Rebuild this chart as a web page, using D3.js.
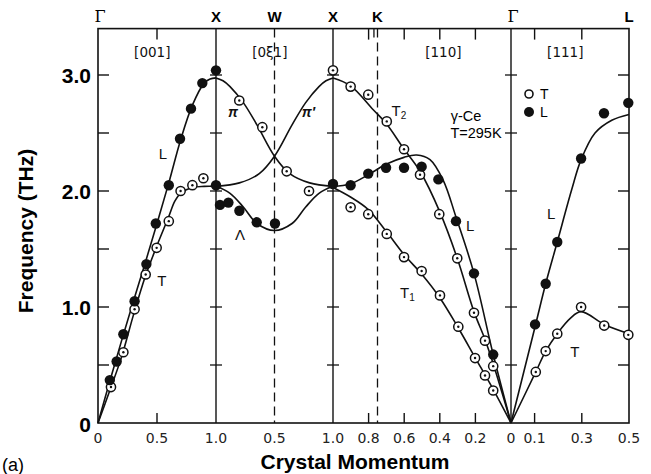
<!DOCTYPE html>
<html><head><meta charset="utf-8">
<script src="https://cdn.jsdelivr.net/npm/d3@7/dist/d3.min.js"></script>
<style>body{margin:0;background:#fff}svg{display:block}</style>
</head><body>
<svg id="c" width="651" height="474"></svg>
<script>
// ---------- DATA ----------
// path coordinate s: Γ-X [001] 0..1, X-W-X [0ξ1] 1..2, X-K-Γ [110] 2..3, Γ-L [111] 3..3.5
const symbolNames = ["Γ","X","W","X","K","Γ","L"];
const symbolPos   = [0, 1, 1.5, 2, 2.25, 3, 3.5];
const sectionNames = ["[001]","[0ξ1]","[110]","[111]"];
const sectionPos   = [0.46, 1.46, 2.62, 3.23];
const xTickPos    = [0, 0.5, 1, 1.5, 2, 2.2, 2.4, 2.6, 2.8, 3, 3.1, 3.3, 3.5];
const xTickLabels = ["0","0.5","1.0","0.5","1.0","0.8","0.6","0.4","0.2","0","0.1","0.3","0.5"];
const yTickVals   = [0, 1, 2, 3];
const yTickLabels = ["0","1.0","2.0","3.0"];

// measured points: filled = L (longitudinal), open = T (transverse)
const filledPts = [
  [0.10,0.37],[0.158,0.53],[0.215,0.765],[0.31,1.05],[0.41,1.37],[0.49,1.72],[0.60,2.05],
  [0.695,2.45],[0.788,2.71],[0.884,2.93],[1.0,3.04],[1.0,2.05],
  [1.034,1.88],[1.106,1.90],[1.20,1.83],[1.348,1.73],[1.504,1.72],[2.0,2.06],
  [2.099,2.05],[2.198,2.15],[2.298,2.20],[2.399,2.20],[2.498,2.21],[2.592,2.10],[2.691,1.74],
  [2.792,1.29],[2.90,0.59],
  [3.102,0.85],[3.147,1.20],[3.196,1.56],[3.297,2.28],[3.394,2.67],[3.497,2.76]
];
const openPts = [
  [0.11,0.31],[0.215,0.61],[0.31,0.98],[0.404,1.28],[0.497,1.51],[0.60,1.74],[0.70,2.00],
  [0.80,2.05],[0.893,2.11],
  [1.199,2.78],[1.396,2.55],[1.604,2.17],[1.795,2.00],[2.0,3.04],
  [2.099,2.90],[2.198,2.83],[2.302,2.60],[2.399,2.36],[2.489,2.14],[2.597,1.80],[2.698,1.42],
  [2.792,0.95],[2.854,0.71],[2.90,0.49],
  [2.099,1.86],[2.198,1.80],[2.302,1.63],[2.399,1.43],[2.498,1.31],[2.601,1.10],[2.704,0.83],
  [2.798,0.56],[2.854,0.41],[2.90,0.28],
  [3.105,0.44],[3.147,0.62],[3.196,0.77],[3.297,1.00],[3.395,0.84],[3.497,0.76]
];

// fitted dispersion curves
const curveL001 = [[0,0],[0.1,0.36],[0.2,0.71],[0.3,1.05],[0.4,1.38],[0.5,1.72],[0.6,2.07],[0.7,2.44],[0.8,2.74],[0.9,2.93],[0.95,2.965],[1.0,2.975]];
const curveT001 = [[0,0],[0.1,0.28],[0.2,0.57],[0.3,0.93],[0.4,1.26],[0.5,1.53],[0.6,1.78],[0.65,1.91],[0.7,1.98],[0.8,2.03],[0.9,2.04],[1.0,2.04]];
const curvePi   = [[1.0,2.975],[1.06,2.95],[1.12,2.90],[1.235,2.76],[1.35,2.57],[1.5,2.30],[1.63,2.15],[1.8,2.07],[2.0,2.04]];
const curvePiP  = [[1.0,2.04],[1.2,2.07],[1.37,2.15],[1.5,2.30],[1.65,2.57],[1.765,2.76],[1.88,2.90],[1.94,2.95],[2.0,2.975]];
const curveLam  = [[1.0,2.04],[1.12,1.98],[1.235,1.86],[1.35,1.72],[1.5,1.66],[1.65,1.72],[1.765,1.86],[1.88,1.98],[2.0,2.04]];
const curveT2   = [[2.0,2.975],[2.096,2.91],[2.226,2.70],[2.30,2.58],[2.395,2.37],[2.489,2.17],[2.60,1.82],[2.698,1.42],[2.792,0.96],[2.854,0.72],[2.90,0.51],[3.0,0]];
const curveL110 = [[2.0,2.04],[2.096,2.06],[2.198,2.14],[2.298,2.23],[2.399,2.29],[2.47,2.31],[2.545,2.27],[2.62,2.09],[2.69,1.78],[2.792,1.29],[2.90,0.59],[3.0,0]];
const curveT1   = [[2.0,2.03],[2.096,1.95],[2.198,1.84],[2.30,1.65],[2.40,1.45],[2.50,1.28],[2.60,1.08],[2.70,0.83],[2.80,0.56],[2.90,0.29],[3.0,0]];
const curveL111 = [[3.0,0],[3.102,0.83],[3.147,1.20],[3.196,1.56],[3.257,2.01],[3.297,2.27],[3.356,2.50],[3.427,2.61],[3.5,2.66]];
const curveT111 = [[3.0,0],[3.105,0.44],[3.147,0.62],[3.196,0.77],[3.25,0.90],[3.297,0.96],[3.395,0.85],[3.5,0.77]];

const curveLabels = [
  {t:"L", s:0.551, f:2.32},{t:"T", s:0.54, f:1.22},{t:"π", s:1.145, f:2.68},{t:"π′", s:1.79, f:2.68},
  {t:"Λ", s:1.205, f:1.62},{t:"T", sub:"2", s:2.37, f:2.69},{t:"L", s:2.77, f:1.70},
  {t:"T", sub:"1", s:2.418, f:1.12},{t:"L", s:3.17, f:1.80},{t:"T", s:3.27, f:0.61}
];

// ---------- DRAW ----------
const svg = d3.select("#c");
const x = d3.scaleLinear().domain([0,1,2,3,3.5]).range([98,216,333,511,629]);
const y = d3.scaleLinear().domain([0,3]).range([423,75]);
const yTop = y(3.4), yBot = y(0), xL = x(0), xR = x(3.5);

// vertical symmetry lines
[1,2,3].forEach(s=>{
  svg.append("line").attr("x1",x(s)).attr("x2",x(s)).attr("y1",yTop).attr("y2",yBot)
    .attr("stroke","#111").attr("stroke-width",1.4);
  d3.range(0.5,3.01,0.5).forEach(v=>{
    svg.append("line").attr("x1",x(s)-6).attr("x2",x(s)+6).attr("y1",y(v)).attr("y2",y(v))
      .attr("stroke","#111").attr("stroke-width",1.3);
  });
});
[1.5,2.25].forEach(s=>{
  svg.append("line").attr("x1",x(s)).attr("x2",x(s)).attr("y1",yTop).attr("y2",yBot)
    .attr("stroke","#111").attr("stroke-width",1.3).attr("stroke-dasharray","9,5");
});

// frame
svg.append("rect").attr("x",xL).attr("y",yTop).attr("width",xR-xL).attr("height",yBot-yTop)
  .attr("fill","none").attr("stroke","#111").attr("stroke-width",1.6);

// y ticks (inside on both sides)
d3.range(0.5,3.01,0.5).forEach(v=>{
  svg.append("line").attr("x1",xL).attr("x2",xL+11).attr("y1",y(v)).attr("y2",y(v)).attr("stroke","#111").attr("stroke-width",1.4);
  svg.append("line").attr("x1",xR-11).attr("x2",xR).attr("y1",y(v)).attr("y2",y(v)).attr("stroke","#111").attr("stroke-width",1.4);
});
// inner x ticks top and bottom
[0.5,2.2,2.4,2.6,2.8,3.1,3.3].forEach(s=>{
  svg.append("line").attr("x1",x(s)).attr("x2",x(s)).attr("y1",yBot).attr("y2",yBot-10).attr("stroke","#111").attr("stroke-width",1.4);
  svg.append("line").attr("x1",x(s)).attr("x2",x(s)).attr("y1",yTop).attr("y2",yTop+11).attr("stroke","#111").attr("stroke-width",1.4);
});
svg.append("line").attr("x1",x(2.23)).attr("x2",x(2.23)).attr("y1",yTop).attr("y2",yTop+9).attr("stroke","#111").attr("stroke-width",1.3);

// y labels
svg.selectAll(".yl").data(yTickVals).enter().append("text")
  .attr("x",91).attr("y",(d,i)=>y(d)+ (d===0?9:7.5)).attr("text-anchor","end")
  .attr("font-family","Liberation Sans, Arial, sans-serif").attr("font-weight","bold").attr("font-size",21)
  .text((d,i)=>yTickLabels[i]);

// x labels
svg.selectAll(".xl").data(xTickPos).enter().append("text")
  .attr("x",d=>x(d)).attr("y",443).attr("text-anchor","middle")
  .attr("font-family","DejaVu Sans, sans-serif").attr("font-size",14).attr("fill","#222")
  .text((d,i)=>xTickLabels[i]);

// symmetry point labels
svg.selectAll(".sym").data(symbolPos).enter().append("text")
  .attr("x",(d,i)=>x(d)+(symbolNames[i]==="Γ"?2:0)).attr("y",22).attr("text-anchor","middle")
  .attr("font-family",(d,i)=>symbolNames[i]==="Γ"?"DejaVu Serif, serif":"Liberation Sans, Arial, sans-serif")
  .attr("font-weight",(d,i)=>symbolNames[i]==="Γ"?"normal":"bold")
  .attr("font-size",(d,i)=>symbolNames[i]==="Γ"?16:15)
  .text((d,i)=>symbolNames[i]);

// section labels
svg.selectAll(".sec").data(sectionPos).enter().append("text")
  .attr("x",d=>x(d)).attr("y",57).attr("text-anchor","middle")
  .attr("font-family","DejaVu Sans, sans-serif").attr("font-size",13.5).attr("fill","#111")
  .text((d,i)=>sectionNames[i]);

// curves
const line = d3.line().x(d=>x(d[0])).y(d=>y(d[1])).curve(d3.curveCatmullRom.alpha(0.5));
[curveL001,curveT001,curvePi,curvePiP,curveLam,curveT2,curveL110,curveT1,curveL111,curveT111].forEach(c=>{
  svg.append("path").attr("d",line(c)).attr("fill","none").attr("stroke","#111").attr("stroke-width",1.6);
});

// markers
svg.selectAll(".op").data(openPts).enter().append("circle")
  .attr("cx",d=>x(d[0])).attr("cy",d=>y(d[1])).attr("r",4.6)
  .attr("fill","#fff").attr("stroke","#111").attr("stroke-width",1.5);
svg.selectAll(".opd").data(openPts).enter().append("circle")
  .attr("cx",d=>x(d[0])).attr("cy",d=>y(d[1])).attr("r",1.2).attr("fill","#111");
svg.selectAll(".fp").data(filledPts).enter().append("circle")
  .attr("cx",d=>x(d[0])).attr("cy",d=>y(d[1])).attr("r",5.2).attr("fill","#111");

// curve labels
curveLabels.forEach(l=>{
  const t = svg.append("text").attr("x",x(l.s)).attr("y",y(l.f)+5).attr("text-anchor","middle")
    .attr("font-family","Liberation Sans, Arial, sans-serif").attr("font-size",l.t.startsWith("π")?14:15)
    .attr("font-style",l.t.startsWith("π")?"italic":"normal").attr("font-weight",l.t.startsWith("π")?"bold":"normal")
    .attr("fill","#111").text(l.t);
  if(l.sub) t.append("tspan").attr("font-size",10).attr("dy",3).text(l.sub);
});

// legend
svg.append("circle").attr("cx",529).attr("cy",94).attr("r",4).attr("fill","#fff").attr("stroke","#111").attr("stroke-width",1.6);
svg.append("circle").attr("cx",529).attr("cy",112).attr("r",5).attr("fill","#111");
svg.append("text").attr("x",540).attr("y",99).attr("font-family","Liberation Sans, Arial, sans-serif").attr("font-size",14).text("T");
svg.append("text").attr("x",540).attr("y",117).attr("font-family","Liberation Sans, Arial, sans-serif").attr("font-size",14).text("L");
svg.append("text").attr("x",466).attr("y",121).attr("text-anchor","middle").attr("font-family","Liberation Sans, Arial, sans-serif").attr("font-size",14.5).text("γ-Ce");
svg.append("text").attr("x",476).attr("y",138).attr("text-anchor","middle").attr("font-family","Liberation Sans, Arial, sans-serif").attr("font-size",14.5).text("T=295K");

// axis titles
svg.append("text").attr("x",355).attr("y",469).attr("text-anchor","middle")
  .attr("font-family","Liberation Sans, Arial, sans-serif").attr("font-weight","bold").attr("font-size",21)
  .text("Crystal Momentum");
svg.append("text").attr("transform","translate(33,231) rotate(-90)").attr("text-anchor","middle")
  .attr("font-family","Liberation Sans, Arial, sans-serif").attr("font-weight","bold").attr("font-size",21)
  .text("Frequency (THz)");
svg.append("text").attr("x",2).attr("y",471).attr("font-family","Liberation Sans, Arial, sans-serif").attr("font-size",18).text("(a)");
</script>
</body></html>
